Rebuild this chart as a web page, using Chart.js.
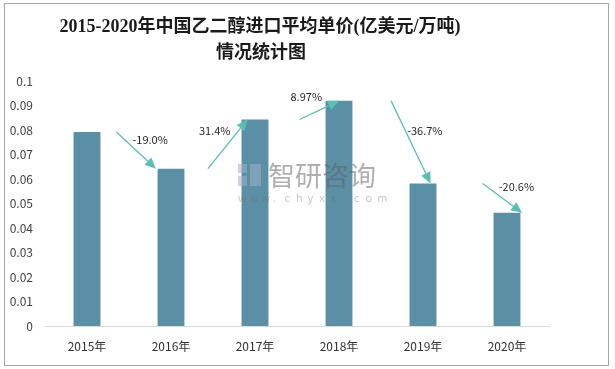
<!DOCTYPE html>
<html>
<head>
<meta charset="utf-8">
<script src="https://cdn.jsdelivr.net/npm/chart.js@4/dist/chart.umd.min.js"></script>
<style>
  html, body { margin: 0; padding: 0; background: #fff; }
  #wrap { width: 615px; height: 369px; position: relative; }
</style>
</head>
<body>
<div id="wrap"><canvas id="barChart" width="615" height="369"></canvas></div>
<script>
var categories = ['2015年', '2016年', '2017年', '2018年', '2019年', '2020年'];
var prices = [0.0792, 0.0642, 0.0843, 0.0919, 0.0582, 0.0462];
var changeLabels = ['-19.0%', '31.4%', '8.97%', '-36.7%', '-20.6%'];
var yTickLabels = ['0', '0.01', '0.02', '0.03', '0.04', '0.05', '0.06', '0.07', '0.08', '0.09', '0.1'];
var titleLines = ['2015-2020年中国乙二醇进口平均单价(亿美元/万吨)', '情况统计图'];

var cjk = "'Noto Sans CJK SC', 'Noto Sans', sans-serif";

// background, frame and title
var framePlugin = {
  id: 'frame',
  beforeDraw: function(chart) {
    var ctx = chart.ctx;
    ctx.save();
    ctx.fillStyle = '#fff';
    ctx.fillRect(0, 0, chart.width, chart.height);
    ctx.strokeStyle = '#a6a6a6';
    ctx.lineWidth = 1;
    ctx.strokeRect(4.5, 3.5, 604, 362);
    ctx.fillStyle = '#1a1a1a';
    ctx.textAlign = 'center';
    ctx.textBaseline = 'middle';
    ctx.font = "bold 18px 'Liberation Serif', 'Noto Sans CJK SC', serif";
    ctx.fillText(titleLines[0], 260, 27);
    ctx.fillText(titleLines[1], 261, 53);
    ctx.restore();
  }
};

// watermark + growth arrows
var arrowPlugin = {
  id: 'arrows',
  afterDatasetsDraw: function(chart) {
    var ctx = chart.ctx;
    var xs = chart.scales.x, ys = chart.scales.y;
    ctx.save();

    // watermark
    ctx.fillStyle = 'rgba(160,175,200,0.55)';
    ctx.fillRect(238, 164, 9, 9);
    ctx.fillRect(238, 176, 9, 10);
    ctx.fillRect(250, 164, 11, 22);
    ctx.fillStyle = 'rgba(95,95,95,0.5)';
    ctx.font = "27px " + cjk;
    ctx.textAlign = 'left';
    ctx.textBaseline = 'middle';
    ctx.fillText('智研咨询', 268, 176);
    ctx.fillStyle = 'rgba(110,110,110,0.4)';
    ctx.font = "11px " + cjk;
    var url = 'www.chyxx.com';
    for (var k = 0; k < url.length; k++) {
      ctx.fillText(url[k], 238 + k * 11.6, 198);
    }

    // arrows between bars
    ctx.strokeStyle = '#5cbdb4';
    ctx.fillStyle = '#5cbdb4';
    ctx.lineWidth = 1.3;
    for (var i = 0; i < changeLabels.length; i++) {
      var x0 = xs.getPixelForValue(i + 0.35 + 0.09 * i);
      var x1 = xs.getPixelForValue(i + 0.82 + 0.09 * i);
      var y0 = ys.getPixelForValue(prices[i]);
      var y1 = ys.getPixelForValue(prices[i + 1]);
      var ang = Math.atan2(y1 - y0, x1 - x0);
      var hl = 11, hw = 5;
      var bx = x1 - hl * Math.cos(ang), by = y1 - hl * Math.sin(ang);
      ctx.beginPath();
      ctx.moveTo(x0, y0);
      ctx.lineTo(bx, by);
      ctx.stroke();
      ctx.beginPath();
      ctx.moveTo(x1, y1);
      ctx.lineTo(bx + hw * Math.sin(ang), by - hw * Math.cos(ang));
      ctx.lineTo(bx - hw * Math.sin(ang), by + hw * Math.cos(ang));
      ctx.closePath();
      ctx.fill();

      var mx = (x0 + x1) / 2, my = (y0 + y1) / 2;
      var down = y1 > y0;
      ctx.fillStyle = '#262626';
      ctx.font = "11px " + cjk;
      ctx.textAlign = 'center';
      ctx.fillText(changeLabels[i], mx + (down ? 14 : -13), my - (down ? 11 : 13));
      ctx.fillStyle = '#5cbdb4';
    }
    ctx.restore();
  }
};

var ctxB = document.getElementById('barChart').getContext('2d');
var myBarChart = new Chart(ctxB, {
  type: 'bar',
  data: {
    labels: categories,
    datasets: [{
      data: prices,
      backgroundColor: '#5b8fa6',
      borderWidth: 0,
      categoryPercentage: 1,
      barPercentage: 0.32
    }]
  },
  options: {
    responsive: false,
    animation: false,
    layout: { padding: { left: 0, top: 81, right: 66, bottom: 0 } },
    plugins: {
      legend: { display: false },
      tooltip: { enabled: false }
    },
    scales: {
      x: {
        grid: { display: false },
        border: { display: true, color: '#d9d9d9', width: 1 },
        ticks: { color: '#333', font: { size: 12, family: cjk }, padding: 5 },
        afterFit: function(scale) { scale.height = 43; }
      },
      y: {
        min: 0,
        max: 0.1,
        grid: { display: false },
        border: { display: false },
        ticks: {
          stepSize: 0.01,
          color: '#404040',
          font: { size: 12, family: cjk },
          padding: 4,
          callback: function(v, idx) { return yTickLabels[idx]; }
        },
        afterFit: function(scale) { scale.width = 45; }
      }
    }
  },
  plugins: [framePlugin, arrowPlugin]
});
</script>
</body>
</html>
